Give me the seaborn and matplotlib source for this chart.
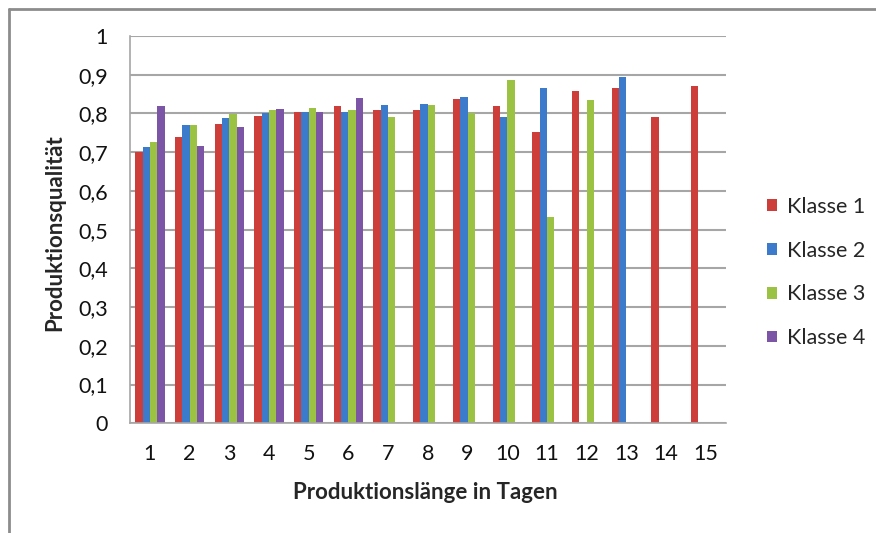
import numpy as np
import pandas as pd
import matplotlib
matplotlib.use("Agg")
import matplotlib.pyplot as plt
import seaborn as sns
from matplotlib.lines import Line2D

#
#  Values (nan = no bar)
#

tage = [str(i) for i in range(1, 16)]
klassen = ["Klasse 1", "Klasse 2", "Klasse 3", "Klasse 4"]
nan = np.nan

klasse1 = [0.700, 0.738, 0.772, 0.793, 0.805, 0.818, 0.809, 0.809, 0.836, 0.818,
           0.752, 0.857, 0.866, 0.791, 0.870]
klasse2 = [0.713, 0.769, 0.787, 0.800, 0.805, 0.803, 0.821, 0.824, 0.842, 0.791,
           0.866, nan, 0.894, nan, nan]
klasse3 = [0.725, 0.769, 0.798, 0.809, 0.815, 0.809, 0.791, 0.821, 0.800, 0.886,
           0.533, 0.834, nan, nan, nan]
klasse4 = [0.820, 0.715, 0.766, 0.812, 0.805, 0.839, nan, nan, nan, nan,
           nan, nan, nan, nan, nan]

farben = ["#CD3D39", "#3C7BCB", "#9BC243", "#7D55A6"]

#
#  Long form table for seaborn
#

rows = []
for name, vals in zip(klassen, [klasse1, klasse2, klasse3, klasse4]):
    for t, v in zip(tage, vals):
        if not np.isnan(v):
            rows.append({"Tag": t, "Klasse": name, "Wert": v})
df = pd.DataFrame(rows)

sns.set_style("white")
plt.rcParams["font.family"] = ["Lato", "DejaVu Sans"]

fig = plt.figure(figsize=(8.76, 5.33), dpi=100)
ax = fig.add_axes([0.1484, 0.2058, 0.680, 0.7267])

sns.barplot(data=df, x="Tag", y="Wert", hue="Klasse", order=tage,
            hue_order=klassen, palette=farben, width=0.74, ax=ax,
            saturation=1, errorbar=None, linewidth=0)

ax.set_ylim(0, 1)
ax.set_xlim(-0.5, 14.5)
yt = np.arange(0, 1.01, 0.1)
ax.set_yticks(yt)
ax.set_yticklabels([("%.1f" % v).replace(".", ",").replace("0,0", "0").replace("1,0", "1")
                    for v in yt])
ax.yaxis.grid(True, color="#A6A6A6", linewidth=1.5)
ax.set_axisbelow(True)
for s in ["top", "right"]:
    ax.spines[s].set_visible(False)
for s in ["left", "bottom"]:
    ax.spines[s].set_color("#A6A6A6")
    ax.spines[s].set_linewidth(1.2)
ax.tick_params(axis="both", length=0, labelsize=15.5, colors="#111111")
ax.tick_params(axis="y", pad=16)
ax.tick_params(axis="x", pad=15)

ax.set_xlabel("Produktionslänge in Tagen", fontsize=16, fontweight="bold")
ax.set_ylabel("Produktionsqualität", fontsize=16, fontweight="bold")
ax.xaxis.set_label_coords((425 - 130) / 595.7, (423.3 - 492) / 387.3)
ax.xaxis.label.set_va("center")
ax.yaxis.set_label_coords((55 - 130) / 595.7, (423.3 - 233) / 387.3)
ax.yaxis.label.set_va("center")

leg = ax.legend(loc="center left", bbox_to_anchor=(1.069, 0.389), frameon=False,
                fontsize=15.5, handlelength=0.48, handleheight=0.48,
                handletextpad=0.45, labelspacing=1.1, borderpad=0,
                borderaxespad=0)

# chart frame (cropped at right and bottom)
fig.add_artist(Line2D([9 / 876, 1], [1 - 9 / 533, 1 - 9 / 533],
                      transform=fig.transFigure, color="#8C8C8C", linewidth=2))
fig.add_artist(Line2D([9 / 876, 9 / 876], [0, 1 - 9 / 533],
                      transform=fig.transFigure, color="#8C8C8C", linewidth=2))

fig.savefig("out.png", dpi=100)
